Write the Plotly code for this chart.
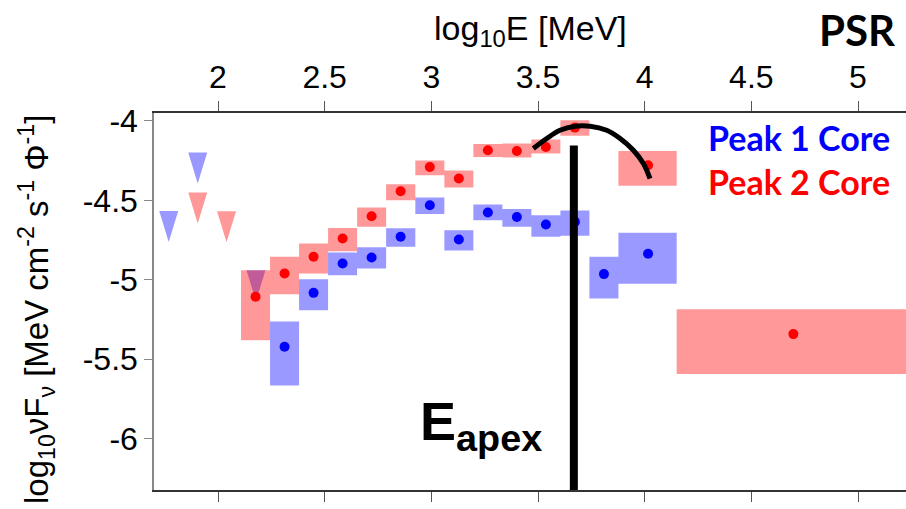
import plotly.graph_objects as go

# ---------------- data ----------------
# Peak 2 Core (red): energy bins (log10 E), value and band
red_x_lo = [2.108, 2.244, 2.380, 2.516, 2.652, 2.788, 2.925, 3.061, 3.197, 3.333, 3.469, 3.605, 3.877, 4.150]
red_x_hi = [2.244, 2.380, 2.516, 2.652, 2.788, 2.925, 3.061, 3.197, 3.333, 3.469, 3.605, 3.741, 4.150, 5.244]
red_x = [2.176, 2.312, 2.448, 2.584, 2.720, 2.856, 2.993, 3.129, 3.265, 3.401, 3.537, 3.673, 4.016, 4.697]
red_y = [-5.108, -4.961, -4.856, -4.741, -4.600, -4.443, -4.290, -4.363, -4.185, -4.189, -4.164, -4.042, -4.279, -5.343]
red_lo = [-5.381, -5.092, -4.961, -4.821, -4.667, -4.499, -4.342, -4.419, -4.227, -4.230, -4.205, -4.094, -4.409, -5.595]
red_hi = [-4.940, -4.856, -4.772, -4.674, -4.545, -4.399, -4.249, -4.312, -4.145, -4.142, -4.117, -3.996, -4.189, -5.186]

# Peak 1 Core (blue)
blue_x_lo = [2.244, 2.380, 2.516, 2.652, 2.788, 2.925, 3.061, 3.197, 3.333, 3.469, 3.605, 3.741, 3.877]
blue_x_hi = [2.380, 2.516, 2.652, 2.788, 2.925, 3.061, 3.197, 3.333, 3.469, 3.605, 3.741, 3.877, 4.150]
blue_x = [2.312, 2.448, 2.584, 2.720, 2.856, 2.993, 3.129, 3.265, 3.401, 3.537, 3.673, 3.809, 4.016]
blue_y = [-5.423, -5.083, -4.898, -4.860, -4.730, -4.531, -4.747, -4.577, -4.605, -4.652, -4.636, -4.965, -4.837]
blue_lo = [-5.666, -5.192, -4.972, -4.929, -4.793, -4.586, -4.816, -4.625, -4.667, -4.730, -4.724, -5.118, -5.026]
blue_hi = [-5.263, -4.997, -4.829, -4.795, -4.676, -4.483, -4.688, -4.526, -4.554, -4.594, -4.564, -4.856, -4.705]

# upper limits (x centre, top of the triangle)
blue_ul_x = [1.769, 1.905, 2.178]
blue_ul_y = [-4.567, -4.199, -4.940]
red_ul_x = [1.905, 2.040]
red_ul_y = [-4.451, -4.569]

# E_apex marker line and fitted curve
eapex_x = 3.668
eapex_top = -4.154
arc_x = [3.478, 3.541, 3.603, 3.674, 3.744, 3.822, 3.885, 3.947, 3.994, 4.025]
arc_y = [-4.174, -4.111, -4.059, -4.033, -4.033, -4.059, -4.111, -4.185, -4.268, -4.363]

x_ticks = [2, 2.5, 3, 3.5, 4, 4.5, 5]
x_ticktext = ["2", "2.5", "3", "3.5", "4", "4.5", "5"]
y_ticks = [-6, -5.5, -5, -4.5, -4]
y_ticktext = ["-6", "-5.5", "-5", "-4.5", "-4"]

X_RANGE = [1.70, 5.225]
Y_RANGE = [-6.325, -3.95]

# ---------------- style ----------------
RED_FILL = "rgba(255,0,0,0.4)"
BLUE_FILL = "rgba(0,0,255,0.4)"
TRI_HALF_W = 0.0445
TRI_H = 0.195
TICK_FONT = dict(family="Liberation Sans, Arial, sans-serif", size=32, color="black")


def boxes(xlo, xhi, ylo, yhi):
    xs, ys = [], []
    for a, b, c, d in zip(xlo, xhi, ylo, yhi):
        xs += [a, b, b, a, a, None]
        ys += [c, c, d, d, c, None]
    return xs, ys


def triangles(xc, ytop):
    xs, ys = [], []
    for a, t in zip(xc, ytop):
        xs += [a - TRI_HALF_W, a + TRI_HALF_W, a, a - TRI_HALF_W, None]
        ys += [t, t, t - TRI_H, t, None]
    return xs, ys


fig = go.Figure()

# upper-limit triangles (drawn first, boxes overlay them)
tx, ty = triangles(blue_ul_x, blue_ul_y)
fig.add_trace(go.Scatter(x=tx, y=ty, mode="lines", fill="toself", fillcolor=BLUE_FILL,
                         line=dict(width=0), hoverinfo="skip", showlegend=False))
tx, ty = triangles(red_ul_x, red_ul_y)
fig.add_trace(go.Scatter(x=tx, y=ty, mode="lines", fill="toself", fillcolor=RED_FILL,
                         line=dict(width=0), hoverinfo="skip", showlegend=False))

# bands
bx, by = boxes(blue_x_lo, blue_x_hi, blue_lo, blue_hi)
fig.add_trace(go.Scatter(x=bx, y=by, mode="lines", fill="toself", fillcolor=BLUE_FILL,
                         line=dict(width=0), hoverinfo="skip", showlegend=False))
bx, by = boxes(red_x_lo, red_x_hi, red_lo, red_hi)
fig.add_trace(go.Scatter(x=bx, y=by, mode="lines", fill="toself", fillcolor=RED_FILL,
                         line=dict(width=0), hoverinfo="skip", showlegend=False))

# points
fig.add_trace(go.Scatter(x=blue_x, y=blue_y, mode="markers", name="Peak 1 Core",
                         marker=dict(color="#0000ff", size=10, symbol="circle"), showlegend=False))
fig.add_trace(go.Scatter(x=red_x, y=red_y, mode="markers", name="Peak 2 Core",
                         marker=dict(color="#ff0000", size=10, symbol="circle"), showlegend=False))

# E_apex line and curve
fig.add_trace(go.Scatter(x=[eapex_x, eapex_x], y=[eapex_top, Y_RANGE[0]], mode="lines",
                         line=dict(color="black", width=8), hoverinfo="skip", showlegend=False))
fig.add_trace(go.Scatter(x=arc_x, y=arc_y, mode="lines", line=dict(color="black", width=5, shape="spline"),
                         hoverinfo="skip", showlegend=False))

fig.update_layout(
    width=906, height=509,
    margin=dict(l=154, r=0, t=113, b=19),
    paper_bgcolor="white", plot_bgcolor="white",
    xaxis=dict(range=X_RANGE, side="top", tickvals=x_ticks, ticktext=x_ticktext,
               ticks="outside", ticklen=10, tickcolor="#555", showline=True, linecolor="#333",
               linewidth=1.5, mirror="ticks", showgrid=False, zeroline=False, tickfont=TICK_FONT),
    yaxis=dict(range=Y_RANGE, tickvals=y_ticks, ticktext=y_ticktext,
               ticks="outside", ticklen=8, tickcolor="#888", showline=True, linecolor="#888",
               linewidth=1.5, showgrid=False, zeroline=False, tickfont=TICK_FONT),
    showlegend=False,
)

ann_font = "Liberation Sans, Arial, sans-serif"
fig.add_annotation(text="log<sub>10</sub>E [MeV]", xref="paper", yref="paper", x=0.5, y=1.282,
                   xanchor="center", yanchor="top", showarrow=False,
                   font=dict(family=ann_font, size=34, color="black"))
fig.add_annotation(text="log<sub>10</sub>νF<sub>ν</sub> [MeV cm<sup>-2</sup> s<sup>-1</sup> Φ<sup>-1</sup>]",
                   xref="paper", yref="paper", x=-0.157, y=0.48, textangle=-90,
                   xanchor="center", yanchor="middle", showarrow=False,
                   font=dict(family=ann_font, size=33, color="black"))
fig.add_annotation(text="<b>PSR</b>", xref="paper", yref="paper", x=0.99, y=1.22,
                   xanchor="right", yanchor="middle", showarrow=False,
                   font=dict(family="Lato, sans-serif", size=42, color="black"))
fig.add_annotation(text="<b>Peak 1 Core</b>", xref="paper", yref="paper", x=0.981, y=0.934,
                   xanchor="right", yanchor="middle", showarrow=False,
                   font=dict(family="Lato, sans-serif", size=34, color="#0000ff"))
fig.add_annotation(text="<b>Peak 2 Core</b>", xref="paper", yref="paper", x=0.981, y=0.818,
                   xanchor="right", yanchor="middle", showarrow=False,
                   font=dict(family="Lato, sans-serif", size=34, color="#ff0000"))
fig.add_annotation(text="<b>E<sub>apex</sub></b>", xref="paper", yref="paper", x=0.435, y=0.172,
                   xanchor="center", yanchor="middle", showarrow=False,
                   font=dict(family=ann_font, size=54, color="black"))

fig.write_html("out.html")
